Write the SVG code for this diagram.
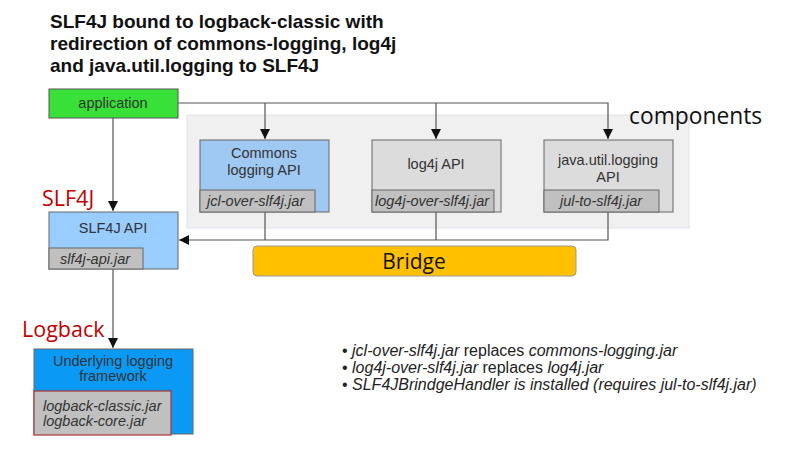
<svg xmlns="http://www.w3.org/2000/svg" width="802" height="461" viewBox="0 0 802 461">
<style>
.t{font-family:"Liberation Sans",Arial,sans-serif;}
.title{font-weight:bold;font-size:19px;fill:#111;}
.lbl{font-size:14.5px;fill:#333;text-anchor:middle;}
.jar{font-size:14.5px;fill:#333;font-style:italic;}
.box{stroke:#666;stroke-width:1;}
.jarbox{fill:#c0c0c0;stroke:#666;stroke-width:1;}
.red{font-family:"Open Sans","DejaVu Sans",sans-serif;font-size:21.5px;fill:#c00000;}
.con{fill:none;stroke:#555;stroke-width:1.2;}
.note{font-size:16px;fill:#222;}
</style>
<defs>
<marker id="ah" viewBox="0 0 10 10" refX="10" refY="5" markerWidth="10" markerHeight="10" markerUnits="userSpaceOnUse" orient="auto">
<path d="M0,0 L10,5 L0,10 z" fill="#111"/>
</marker>
</defs>
<rect width="802" height="461" fill="#fff"/>
<g id="title" class="t title">
<text x="50" y="28">SLF4J bound to logback-classic with</text>
<text x="50" y="50">redirection of commons-logging, log4j</text>
<text x="50" y="72">and java.util.logging to SLF4J</text>
</g>
<g id="components-area">
<rect x="187" y="115" width="502" height="113" fill="#f0f0f0" stroke="#dde3ea" stroke-width="1"/>
<text x="629" y="124" font-family="Open Sans, DejaVu Sans, sans-serif" font-size="22.8" fill="#111">components</text>
</g>
<g id="connectors">
<polyline class="con" points="178,103 608,103 608,139" marker-end="url(#ah)"/>
<line class="con" x1="265" y1="103" x2="265" y2="139" marker-end="url(#ah)"/>
<line class="con" x1="436" y1="103" x2="436" y2="139" marker-end="url(#ah)"/>
<line class="con" x1="113" y1="118" x2="113" y2="211" marker-end="url(#ah)"/>
<line class="con" x1="113" y1="269" x2="113" y2="348" marker-end="url(#ah)"/>
<line class="con" x1="265" y1="212" x2="265" y2="240"/>
<line class="con" x1="436" y1="212" x2="436" y2="240"/>
<polyline class="con" points="608,212 608,240 179,240" marker-end="url(#ah)"/>
</g>
<g id="application" class="t">
<rect x="49" y="89" width="129" height="29" fill="#38e038" stroke="#555" stroke-width="1"/>
<text class="lbl" x="113" y="108" fill="#222">application</text>
</g>
<g id="commons" class="t">
<rect class="box" x="200" y="140" width="129" height="72" fill="#9fc8f2"/>
<text class="lbl" x="264" y="158">Commons</text>
<text class="lbl" x="264" y="175">logging API</text>
<rect class="jarbox" x="200" y="190" width="115" height="22"/>
<text class="jar" x="207" y="206">jcl-over-slf4j.jar</text>
</g>
<g id="log4j" class="t">
<rect class="box" x="372" y="140" width="129" height="72" fill="#dcdcdc"/>
<text class="lbl" x="436" y="169">log4j API</text>
<rect class="jarbox" x="372" y="190" width="122" height="22"/>
<text class="jar" x="375" y="206">log4j-over-slf4j.jar</text>
</g>
<g id="jul" class="t">
<rect class="box" x="544" y="140" width="129" height="72" fill="#dcdcdc"/>
<text class="lbl" x="608" y="165">java.util.logging</text>
<text class="lbl" x="608" y="182">API</text>
<rect class="jarbox" x="544" y="190" width="115" height="22"/>
<text class="jar" x="560" y="206">jul-to-slf4j.jar</text>
</g>
<g id="bridge">
<rect x="253" y="246" width="323" height="30" rx="4" fill="#ffc000" stroke="#999" stroke-width="1"/>
<text x="414" y="269" text-anchor="middle" font-family="Open Sans, DejaVu Sans, sans-serif" font-size="21" fill="#111">Bridge</text>
</g>
<g id="slf4j" class="t">
<text class="red" x="42" y="206">SLF4J</text>
<rect class="box" x="49" y="212" width="129" height="57" fill="#99ccff"/>
<text class="lbl" x="113" y="233">SLF4J API</text>
<rect class="jarbox" x="49" y="248" width="94" height="21"/>
<text class="jar" x="60" y="264">slf4j-api.jar</text>
</g>
<g id="logback" class="t">
<text class="red" x="22" y="337">Logback</text>
<rect class="box" x="34" y="349" width="159" height="85" fill="#0a9af5"/>
<text class="lbl" x="113" y="366" fill="#1a2a44">Underlying logging</text>
<text class="lbl" x="113" y="381" fill="#1a2a44">framework</text>
<rect x="34" y="391" width="137" height="44" fill="#c0c0c0" stroke="#a33" stroke-width="1.2"/>
<text class="jar" x="43" y="411">logback-classic.jar</text>
<text class="jar" x="43" y="426">logback-core.jar</text>
</g>
<g id="notes" class="t note">
<text x="342" y="356">• <tspan font-style="italic">jcl-over-slf4j.jar</tspan> replaces <tspan font-style="italic">commons-logging.jar</tspan></text>
<text x="342" y="373">• <tspan font-style="italic">log4j-over-slf4j.jar</tspan> replaces <tspan font-style="italic">log4j.jar</tspan></text>
<text x="342" y="390">• <tspan font-style="italic">SLF4JBrindgeHandler is installed (requires jul-to-slf4j.jar)</tspan></text>
</g>
</svg>
